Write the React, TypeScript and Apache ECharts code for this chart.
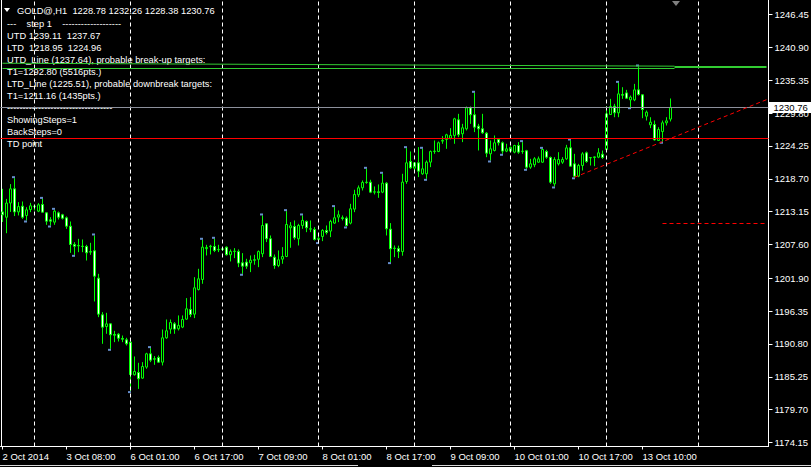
import React, { useEffect, useRef } from "react";
import * as echarts from "echarts";

// ---------- data ----------
const totalSlots = 192; // visible hourly slots (incl. empty future area)
const tickEvery = 16;
const tickLabels = [
  "2 Oct 2014", "3 Oct 08:00", "6 Oct 01:00", "6 Oct 17:00", "7 Oct 09:00", "8 Oct 01:00",
  "8 Oct 17:00", "9 Oct 09:00", "10 Oct 01:00", "10 Oct 17:00", "13 Oct 10:00",
];
const separatorBars = [8, 32, 55, 79, 103, 127, 151, 174]; // day separators

const opens = [
  1213.1, 1212.2, 1214.6, 1217.0, 1213.1, 1214.07, 1212.5, 1213.5, 1213.96, 1213.23,
  1214.35, 1212.94, 1211.76, 1211.37, 1212.94, 1212.61, 1212.1, 1210.69, 1207.6, 1207.43,
  1207.31, 1207.26, 1206.3, 1206.53, 1201.91, 1195.71, 1193.74, 1194.19, 1192.4, 1192.45,
  1191.72, 1191.49, 1191.1, 1185.58, 1185.98, 1185.02, 1186.88, 1189.13, 1188.29, 1188.51,
  1187.72, 1191.83, 1193.3, 1194.2, 1193.36, 1193.64, 1194.99, 1196.62, 1195.83, 1200.0,
  1201.69, 1206.9, 1207.21, 1207.26, 1206.7, 1206.87, 1207.15, 1205.86, 1206.42, 1206.42,
  1204.5, 1204.62, 1204.5, 1205.01, 1205.1, 1206.03, 1211.09, 1208.56, 1205.46, 1204.05,
  1205.12, 1205.57, 1210.42, 1210.64, 1208.56, 1210.81, 1211.49, 1210.19, 1210.14, 1208.45,
  1208.95, 1209.97, 1209.86, 1211.21, 1212.22, 1212.11, 1212.05, 1211.21, 1213.57, 1215.99,
  1217.17, 1218.07, 1218.13, 1216.44, 1216.5, 1216.44, 1217.96, 1210.19, 1206.98, 1206.9,
  1206.4, 1218.24, 1221.62, 1220.5, 1221.4, 1219.54, 1219.54, 1221.51, 1223.31, 1223.31,
  1225.06, 1225.34, 1225.56, 1226.02, 1228.66, 1226.3, 1227.14, 1230.69, 1229.51, 1227.59,
  1227.14, 1226.41, 1222.92, 1223.48, 1225.34, 1224.78, 1223.37, 1223.37, 1223.2, 1224.32,
  1223.31, 1223.42, 1220.66, 1221.06, 1221.5, 1221.5, 1223.3, 1222.29, 1217.84, 1221.22,
  1221.5, 1222.07, 1223.92, 1221.22, 1219.14, 1220.94, 1223.08, 1222.23, 1222.29, 1222.35,
  1222.85, 1223.64, 1229.55, 1230.96, 1229.84, 1232.93, 1233.21, 1232.03, 1232.03, 1233.72,
  1232.88, 1229.27, 1227.81, 1227.86, 1225.16, 1226.68, 1228.15, 1228.78,
];
const highs = [
  1217.0, 1215.3, 1217.8, 1218.8, 1214.75, 1214.86, 1213.9, 1214.63, 1214.3, 1214.58,
  1215.3, 1213.06, 1212.21, 1213.45, 1213.17, 1212.78, 1212.33, 1211.48, 1207.99, 1208.55,
  1208.44, 1207.54, 1207.88, 1209.12, 1202.64, 1196.17, 1196.05, 1194.3, 1193.01, 1192.62,
  1192.22, 1191.83, 1191.38, 1188.68, 1187.61, 1187.72, 1189.3, 1190.09, 1188.74, 1188.85,
  1193.24, 1194.93, 1194.93, 1194.48, 1195.61, 1195.61, 1198.54, 1198.7, 1202.08, 1203.49,
  1208.39, 1207.54, 1207.54, 1208.56, 1207.54, 1206.98, 1207.26, 1206.76, 1206.98, 1206.76,
  1206.14, 1205.18, 1205.74, 1205.86, 1206.59, 1212.5, 1211.21, 1209.12, 1205.91, 1206.59,
  1207.15, 1213.23, 1211.37, 1211.66, 1211.09, 1212.5, 1211.66, 1211.66, 1210.53, 1209.12,
  1210.19, 1210.81, 1211.77, 1213.91, 1213.34, 1212.5, 1212.33, 1214.47, 1216.84, 1217.57,
  1218.41, 1220.38, 1218.53, 1217.4, 1217.74, 1219.54, 1218.13, 1211.21, 1207.43, 1207.4,
  1219.54, 1223.87, 1223.31, 1221.51, 1224.04, 1223.76, 1221.79, 1223.48, 1225.17, 1225.0,
  1225.9, 1226.3, 1227.25, 1229.0, 1229.67, 1227.98, 1230.91, 1230.91, 1233.22, 1227.98,
  1229.67, 1226.58, 1225.17, 1226.01, 1225.56, 1225.0, 1224.61, 1224.16, 1224.44, 1224.89,
  1224.89, 1223.59, 1222.07, 1222.35, 1222.46, 1223.75, 1223.59, 1222.46, 1222.35, 1223.19,
  1222.35, 1224.43, 1225.16, 1222.91, 1221.22, 1223.19, 1223.3, 1222.35, 1222.46, 1223.87,
  1223.47, 1230.96, 1232.2, 1231.36, 1234.9, 1234.17, 1233.72, 1232.76, 1234.73, 1237.67,
  1232.99, 1230.23, 1229.1, 1228.54, 1227.41, 1228.54, 1229.1, 1232.26,
];
const lows = [
  1211.4, 1209.5, 1213.1, 1212.4, 1212.5, 1211.93, 1211.65, 1213.06, 1213.34, 1213.06,
  1213.0, 1210.92, 1210.8, 1210.92, 1211.82, 1211.82, 1210.24, 1206.19, 1205.85, 1206.3,
  1206.3, 1204.89, 1205.85, 1197.97, 1195.32, 1190.82, 1192.51, 1189.97, 1191.1, 1191.21,
  1191.1, 1190.53, 1182.83, 1185.47, 1183.2, 1184.91, 1186.6, 1187.72, 1187.27, 1187.61,
  1187.16, 1191.67, 1192.51, 1192.51, 1193.07, 1193.47, 1194.87, 1195.33, 1195.16, 1199.83,
  1200.96, 1205.74, 1205.91, 1206.31, 1206.31, 1206.53, 1205.74, 1204.73, 1205.29, 1203.77,
  1202.65, 1203.49, 1202.93, 1204.17, 1203.77, 1205.46, 1208.0, 1205.46, 1203.49, 1203.77,
  1204.34, 1205.46, 1207.04, 1208.39, 1207.43, 1210.25, 1209.68, 1209.68, 1208.28, 1208.0,
  1208.16, 1209.29, 1208.84, 1211.09, 1211.37, 1211.66, 1210.64, 1211.0, 1213.06, 1215.6,
  1216.72, 1217.85, 1216.27, 1216.05, 1215.48, 1216.27, 1209.12, 1204.62, 1205.46, 1205.3,
  1205.7, 1217.85, 1220.38, 1219.82, 1218.98, 1219.37, 1218.69, 1220.66, 1222.92, 1223.2,
  1224.61, 1223.76, 1225.34, 1224.61, 1225.73, 1224.89, 1226.86, 1227.98, 1226.58, 1223.48,
  1226.3, 1222.35, 1221.79, 1223.31, 1224.32, 1222.92, 1223.2, 1223.2, 1223.0, 1222.92,
  1222.92, 1220.38, 1220.38, 1220.66, 1221.39, 1221.39, 1222.07, 1217.84, 1217.4, 1220.94,
  1221.22, 1221.9, 1220.77, 1218.95, 1218.97, 1220.09, 1221.39, 1220.94, 1220.83, 1222.18,
  1222.07, 1223.19, 1229.5, 1229.1, 1229.1, 1232.2, 1232.2, 1230.79, 1231.81, 1232.76,
  1228.93, 1228.54, 1227.25, 1225.16, 1225.1, 1224.96, 1227.7, 1228.38,
];
const closes = [
  1212.6, 1214.6, 1217.0, 1213.1, 1214.0, 1212.2, 1213.45, 1214.13, 1214.07, 1214.3,
  1213.06, 1211.54, 1211.54, 1213.23, 1212.21, 1212.04, 1210.69, 1207.6, 1207.31, 1207.37,
  1207.26, 1206.19, 1206.41, 1202.25, 1195.83, 1193.63, 1194.19, 1192.34, 1192.28, 1191.77,
  1191.6, 1190.82, 1185.64, 1186.15, 1184.91, 1186.99, 1189.13, 1188.06, 1188.23, 1187.72,
  1191.83, 1193.02, 1194.42, 1193.3, 1193.92, 1194.93, 1196.73, 1195.78, 1200.28, 1201.8,
  1207.15, 1207.1, 1207.32, 1206.59, 1206.76, 1206.76, 1205.86, 1206.42, 1206.47, 1204.45,
  1203.94, 1203.94, 1204.95, 1204.95, 1206.4, 1210.81, 1208.56, 1205.57, 1204.05, 1205.01,
  1205.57, 1210.98, 1210.75, 1208.73, 1210.81, 1211.66, 1210.42, 1210.25, 1208.45, 1208.62,
  1209.97, 1209.63, 1211.49, 1212.11, 1212.61, 1212.0, 1210.81, 1213.63, 1216.05, 1217.17,
  1218.07, 1218.13, 1216.44, 1216.5, 1216.38, 1217.96, 1210.25, 1206.87, 1206.93, 1206.4,
  1218.13, 1221.4, 1220.55, 1221.4, 1219.99, 1220.38, 1221.51, 1223.31, 1223.37, 1224.78,
  1225.17, 1226.13, 1226.02, 1228.83, 1226.13, 1227.31, 1230.69, 1229.51, 1227.42, 1227.14,
  1226.46, 1223.03, 1223.76, 1224.78, 1224.78, 1223.37, 1223.76, 1223.99, 1224.32, 1223.2,
  1223.37, 1220.66, 1221.23, 1222.07, 1222.07, 1223.64, 1222.35, 1218.12, 1221.95, 1221.95,
  1221.95, 1223.92, 1220.83, 1219.14, 1220.94, 1222.91, 1221.61, 1222.29, 1222.4, 1223.08,
  1222.29, 1229.67, 1230.91, 1229.84, 1233.04, 1232.82, 1232.31, 1232.48, 1233.72, 1232.93,
  1230.4, 1229.95, 1228.26, 1225.27, 1227.02, 1228.15, 1228.48, 1230.76,
];

const yTickValues = [
  1246.45, 1240.9, 1235.35, 1229.8, 1224.25, 1218.7, 1213.15, 1207.6, 1201.9, 1196.35,
  1190.8, 1185.25, 1179.7, 1174.15,
];
const yMin = 1173.47;
const yMax = 1248.9;

const bidPrice = 1230.76;
const utdLinePrice = 1237.64;
const ltdLinePrice = 1225.51;
const downTargetPrice = 1211.16;
const upperGreenLine = [[0, 1238.22], [168, 1237.72]];
const lowerGreenLine = [[0, 1237.45], [168, 1237.45]];
const trendAnchors = [[143, 1218.95], [165, 1224.96]];
const targetStartBar = 165;
const utdStartBar = 168;

const highMarkerBars = [3, 10, 13, 23, 37, 50, 53, 65, 71, 75, 83, 91, 95, 101, 105, 118, 130, 135, 142, 154, 159];
const lowMarkerBars = [6, 12, 18, 27, 32, 60, 79, 86, 97, 106, 122, 125, 131, 138, 143, 157, 165];

const headerText = "GOLD@,H1  1228.78 1232.26 1228.38 1230.76";
const infoLines = [
  "---    step 1    -------------------",
  "UTD 1239.11  1237.67",
  "LTD  1218.95  1224.96",
  "UTD_Line (1237.64), probable break-up targets:",
  "T1=1292.80 (5516pts.)",
  "LTD_Line (1225.51), probable downbreak targets:",
  "T1=1211.16 (1435pts.)",
  "----------------------------------",
  "ShowingSteps=1",
  "BackSteps=0",
  "TD point",
];

const FONT = '"Liberation Sans", Arial, sans-serif';

export default function App() {
  const ref = useRef<HTMLDivElement>(null);

  useEffect(() => {
    document.body.style.margin = "0";
    if (!ref.current) return;
    const chart = echarts.init(ref.current, undefined, { renderer: "svg" });

    const categories = Array.from({ length: totalSlots }, (_, i) => String(i));
    const candleData = opens.map((o, i) => [o, closes[i], lows[i], highs[i]]);

    const lastBar = totalSlots - 1;
    const slope = (trendAnchors[1][1] - trendAnchors[0][1]) / (trendAnchors[1][0] - trendAnchors[0][0]);
    const trendEnd = trendAnchors[1][1] + slope * (lastBar - trendAnchors[1][0]);

    const sep = separatorBars.map((b) => ({
      xAxis: String(b),
      lineStyle: { color: "#ffffff", type: [4, 3], width: 1 },
    }));

    const green = "#32cd32";
    const markLineData: any[] = [
      ...sep,
      { yAxis: ltdLinePrice, lineStyle: { color: "#ff0000", type: "solid", width: 1 } },
      {
        yAxis: bidPrice,
        lineStyle: { color: "#8c909c", type: "solid", width: 1 },
        label: {
          show: true,
          position: "end",
          distance: 0,
          formatter: bidPrice.toFixed(2),
          color: "#000",
          backgroundColor: "#fff",
          padding: [1, 6, 0, 5],
          fontFamily: FONT,
          fontSize: 9.5,
        },
      },
      [
        { coord: [String(upperGreenLine[0][0]), upperGreenLine[0][1]], lineStyle: { color: green, width: 1, type: "solid" } },
        { coord: [String(upperGreenLine[1][0]), upperGreenLine[1][1]] },
      ],
      [
        { coord: [String(lowerGreenLine[0][0]), lowerGreenLine[0][1]], lineStyle: { color: green, width: 1, type: "solid" } },
        { coord: [String(lowerGreenLine[1][0]), lowerGreenLine[1][1]] },
      ],
      [
        { coord: [String(utdStartBar), utdLinePrice], lineStyle: { color: green, width: 2, type: "solid" } },
        { coord: [String(lastBar), utdLinePrice] },
      ],
      [
        { coord: [String(trendAnchors[0][0]), trendAnchors[0][1]], lineStyle: { color: "#ff0000", width: 1, type: [4, 3] } },
        { coord: [String(lastBar), trendEnd] },
      ],
      [
        { coord: [String(targetStartBar), downTargetPrice], lineStyle: { color: "#ff0000", width: 1, type: [4, 3] } },
        { coord: [String(lastBar), downTargetPrice] },
      ],
    ];

    const markerData = [
      ...highMarkerBars.map((b) => ({ value: [String(b), highs[b]], symbolOffset: [-1, -1] })),
      ...lowMarkerBars.map((b) => ({ value: [String(b), lows[b]], symbolOffset: [-1, 1] })),
    ];

    const graphics: any[] = [
      { type: "polygon", shape: { points: [[4, 8], [10, 8], [7, 12]] }, style: { fill: "#fff" }, silent: true },
      {
        type: "text", x: 17, y: 10.5,
        style: { text: headerText, fill: "#fff", font: `9.3px ${FONT}`, verticalAlign: "middle" },
        silent: true,
      },
      ...infoLines.map((t, k) => ({
        type: "text", x: 7, y: 24 + k * 12,
        style: { text: t, fill: "#fff", font: `9.3px ${FONT}`, verticalAlign: "middle" },
        silent: true,
      })),
      { type: "polygon", shape: { points: [[672, 1], [680, 1], [676, 6]] }, style: { fill: "#808080" }, silent: true },
      { type: "line", shape: { x1: 1.5, y1: 0, x2: 1.5, y2: 446 }, style: { stroke: "#fff", lineWidth: 1 }, silent: true },
      { type: "line", shape: { x1: 0, y1: 465.5, x2: 358, y2: 465.5 }, style: { stroke: "#d8d8d8", lineWidth: 1 }, silent: true },
      { type: "line", shape: { x1: 432, y1: 465.5, x2: 811, y2: 465.5 }, style: { stroke: "#d8d8d8", lineWidth: 1 }, silent: true },
    ];

    const labelInterval = (i: number) => i % tickEvery === 0 && i / tickEvery < tickLabels.length;

    const option: any = {
      animation: false,
      backgroundColor: "#000",
      grid: {
        left: 0.5, right: 42.5, top: 0, bottom: 20.5,
        containLabel: false,
        outerBoundsMode: "none",
      },
      xAxis: {
        type: "category",
        data: categories,
        boundaryGap: true,
        axisLine: { show: true, lineStyle: { color: "#fff", width: 1 } },
        axisTick: {
          show: true,
          alignWithLabel: true,
          length: 3,
          interval: labelInterval,
          lineStyle: { color: "#fff" },
        },
        axisLabel: {
          show: true,
          interval: labelInterval,
          formatter: (v: string) => tickLabels[Number(v) / tickEvery] ?? "",
          color: "#fff",
          fontFamily: FONT,
          fontSize: 9.5,
          align: "left",
          margin: 5,
          hideOverlap: false,
        },
        splitLine: { show: false },
      },
      yAxis: {
        type: "value",
        position: "right",
        min: yMin,
        max: yMax,
        scale: true,
        axisLine: { show: true, lineStyle: { color: "#fff", width: 1 } },
        axisTick: { show: true, length: 4, customValues: yTickValues, lineStyle: { color: "#fff" } },
        axisLabel: {
          show: true,
          customValues: yTickValues,
          formatter: (v: number) => v.toFixed(2),
          color: "#fff",
          fontFamily: FONT,
          fontSize: 9.5,
          margin: 6,
        },
        splitLine: { show: false },
      },
      graphic: graphics,
      series: [
        {
          type: "candlestick",
          data: candleData,
          barWidth: 2,
          itemStyle: {
            color: "#000",
            color0: "#fff",
            borderColor: "#00ff00",
            borderColor0: "#00ff00",
            borderColorDoji: "#00ff00",
            borderWidth: 1,
          },
          silent: true,
          markLine: {
            silent: true,
            symbol: ["none", "none"],
            label: { show: false },
            emphasis: { disabled: true },
            data: markLineData,
          },
        },
        {
          type: "scatter",
          data: markerData,
          symbol: "rect",
          symbolSize: [3, 2],
          itemStyle: { color: "#7fb2ff" },
          silent: true,
          z: 3,
        },
      ],
    };

    chart.setOption(option);
    return () => chart.dispose();
  }, []);

  return <div ref={ref} style={{ position: "absolute", left: 0, top: 0, width: 811, height: 467 }} />;
}
